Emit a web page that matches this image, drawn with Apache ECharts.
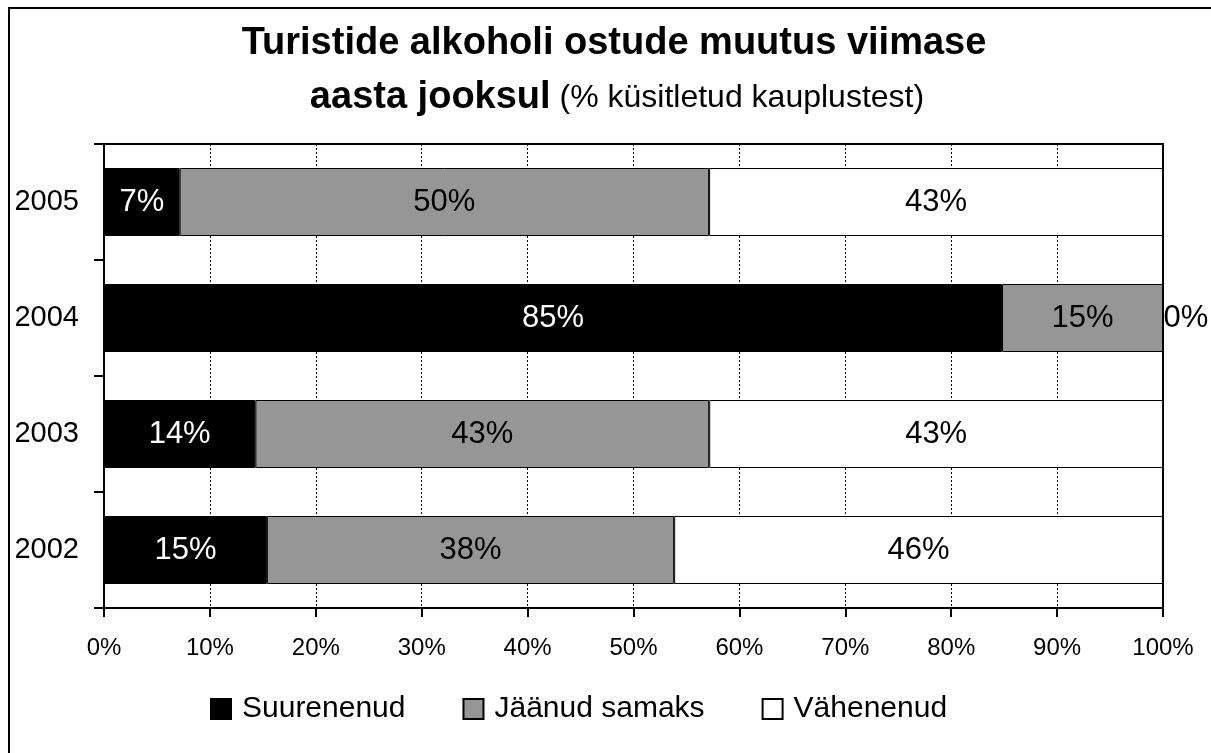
<!DOCTYPE html>
<html>
<head>
<meta charset="utf-8">
<script src="https://cdn.jsdelivr.net/npm/echarts@6/dist/echarts.min.js"></script>
<style>
html,body{margin:0;padding:0;background:#fff;}
#chart{width:1211px;height:753px;}
</style>
</head>
<body>
<div id="chart"></div>
<script>
var categories = ['2002', '2003', '2004', '2005'];
var suurenenud = [15.38, 14.29, 84.8, 7.14];
var jaanudSamaks = [38.46, 42.86, 15.2, 50];
var vahenenud = [46.15, 42.86, 0, 42.86];
var xTicks = [0, 10, 20, 30, 40, 50, 60, 70, 80, 90, 100];
var seriesNames = ['Suurenenud', 'Jäänud samaks', 'Vähenenud'];

var FONT = '"Liberation Sans", Arial, sans-serif';

function makeData(arr) {
  return arr.map(function (v) {
    if (v === 0) {
      return { value: v, label: { position: 'right', distance: 0 } };
    }
    return v;
  });
}

function series(name, arr, color, labelColor) {
  return {
    name: name,
    type: 'bar',
    stack: 'total',
    barWidth: 68,
    data: makeData(arr),
    itemStyle: { color: color, borderColor: '#000', borderWidth: 1 },
    label: {
      show: true,
      position: 'inside',
      color: labelColor,
      fontFamily: FONT,
      fontSize: 31,
      formatter: function (p) { return Math.round(p.value) + '%'; }
    },
    emphasis: { disabled: true }
  };
}

var chart = echarts.init(document.getElementById('chart'), null, { renderer: 'canvas' });
chart.setOption({
  animation: false,
  backgroundColor: '#fff',
  graphic: [
    {
      type: 'rect',
      shape: { x: 9, y: 8, width: 1400, height: 900 },
      style: { fill: 'none', stroke: '#000', lineWidth: 2 },
      silent: true,
      z: 100
    },
    {
      type: 'text',
      x: 614, y: 44,
      style: {
        text: 'Turistide alkoholi ostude muutus viimase',
        font: 'bold 38px ' + FONT,
        fill: '#000',
        align: 'center',
        verticalAlign: 'middle'
      },
      silent: true
    },
    {
      type: 'text',
      x: 617, y: 98,
      style: {
        text: '{b|aasta jooksul}{n| (% küsitletud kauplustest)}',
        align: 'center',
        verticalAlign: 'middle',
        rich: {
          b: { fontFamily: FONT, fontWeight: 'bold', fontSize: 38, fill: '#000', color: '#000' },
          n: { fontFamily: FONT, fontSize: 32, fill: '#000', color: '#000' }
        }
      },
      silent: true
    }
  ],
  legend: {
    left: 205,
    top: 689,
    itemWidth: 20,
    itemHeight: 20,
    itemGap: 57,
    icon: 'rect',
    data: seriesNames,
    selectedMode: false,
    textStyle: { fontFamily: FONT, fontSize: 30, color: '#000', padding: [0, 0, 0, 6] }
  },
  grid: {
    left: 104, right: 48, top: 144, bottom: 145,
    show: true, borderColor: '#000', borderWidth: 2, backgroundColor: 'transparent'
  },
  xAxis: {
    type: 'value',
    min: 0, max: 100, interval: 10,
    axisLine: { show: true, lineStyle: { color: '#000', width: 2 } },
    axisTick: { show: true, length: 9, lineStyle: { color: '#000', width: 2 } },
    axisLabel: {
      margin: 28, color: '#000', fontFamily: FONT, fontSize: 24,
      formatter: function (v) { return xTicks.indexOf(v) >= 0 ? v + '%' : ''; }
    },
    splitLine: { show: true, lineStyle: { color: '#000', width: 1, type: [2, 2] } }
  },
  yAxis: {
    type: 'category',
    data: categories,
    axisLine: { show: true, lineStyle: { color: '#000', width: 2 } },
    axisTick: { show: true, length: 10, alignWithLabel: false, lineStyle: { color: '#000', width: 2 } },
    axisLabel: { margin: 25, color: '#000', fontFamily: FONT, fontSize: 29 },
    splitLine: { show: false }
  },
  series: [
    series(seriesNames[0], suurenenud, '#000000', '#fff'),
    series(seriesNames[1], jaanudSamaks, '#969696', '#000'),
    series(seriesNames[2], vahenenud, '#ffffff', '#000')
  ]
});
</script>
</body>
</html>
